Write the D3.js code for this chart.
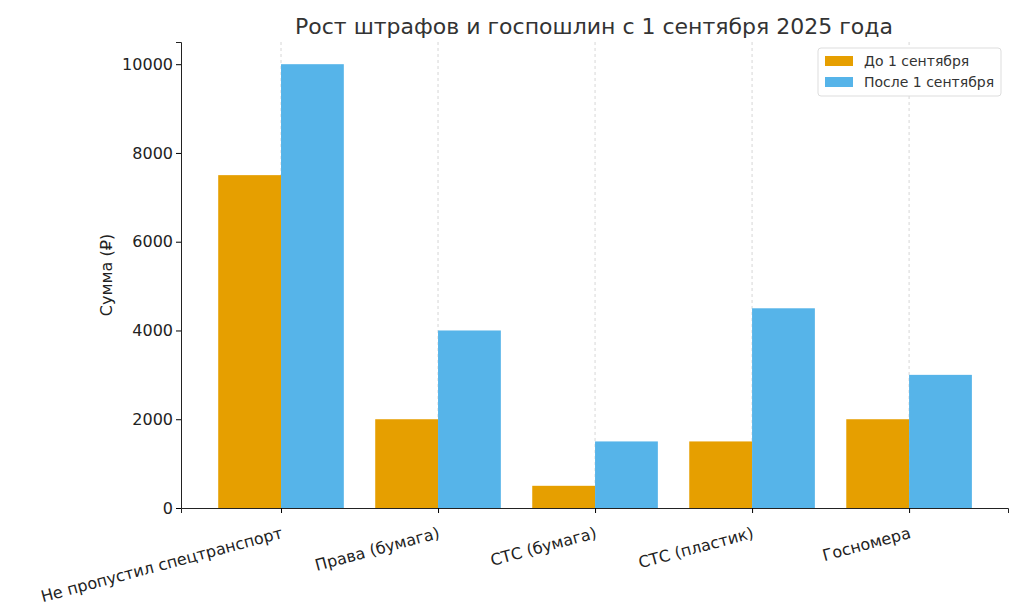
<!DOCTYPE html><html><head><meta charset="utf-8">
<script src="https://cdn.jsdelivr.net/npm/d3@7"></script>
<style>body{margin:0;background:#fff}text{font-family:"DejaVu Sans",sans-serif}</style></head><body>
<svg id="c" width="1024" height="614"></svg>
<script>
const categories=["Не пропустил спецтранспорт","Права (бумага)","СТС (бумага)","СТС (пластик)","Госномера"];
const before=[7500,2000,500,1500,2000];
const after=[10000,4000,1500,4500,3000];
const seriesNames=["До 1 сентября","После 1 сентября"];
const colors=["#E69F00","#56B4E9"];
const yTicks=[0,2000,4000,6000,8000,10000];
const svg=d3.select("#c");
const L=181,R=1008,T=42,B=508;
const x=d3.scaleLinear().domain([-0.637,4.63]).range([L,R]);
const y=d3.scaleLinear().domain([0,10500]).range([B,T]);
const bw=x(0.4)-x(0);
const g=svg.append("g");
categories.forEach((c,i)=>g.append("line").attr("x1",x(i)).attr("x2",x(i)).attr("y1",T).attr("y2",B).attr("stroke","#ccc").attr("stroke-dasharray","3,3").attr("stroke-width",0.8));
[before,after].forEach((s,k)=>g.selectAll(null).data(s).enter().append("rect")
 .attr("x",(d,i)=>x(i)+(k?0:-bw)).attr("width",bw).attr("y",d=>y(d)).attr("height",d=>B-y(d)).attr("fill",colors[k]));
const ya=svg.append("g").attr("transform",`translate(${L},0)`).call(d3.axisLeft(y).tickValues(yTicks).tickFormat(d3.format("d")).tickSize(5));
ya.selectAll("text").attr("font-size",16).attr("fill","#222");
ya.select(".domain").attr("stroke","#222");
const xa=svg.append("g").attr("transform",`translate(0,${B})`).call(d3.axisBottom(x).tickValues(d3.range(5)).tickFormat(i=>categories[i]).tickSize(5));
xa.select(".domain").attr("stroke","#222");
xa.selectAll("text").attr("font-size",16).attr("fill","#222").attr("text-anchor","end").attr("dy",0)
 .attr("transform","translate(0,22) rotate(-15)");
svg.append("text").attr("x",594).attr("y",34).attr("text-anchor","middle").attr("font-size",22).attr("fill","#333").text("Рост штрафов и госпошлин с 1 сентября 2025 года");
svg.append("text").attr("transform","translate(112,275) rotate(-90)").attr("text-anchor","middle").attr("font-size",16).attr("fill","#222").text("Сумма (₽)");
const lg=svg.append("g").attr("transform","translate(818,48)");
lg.append("rect").attr("width",183).attr("height",48).attr("rx",3).attr("fill","#fff").attr("stroke","#ddd");
seriesNames.forEach((n,i)=>{lg.append("rect").attr("x",7).attr("y",8+i*21).attr("width",28).attr("height",10).attr("fill",colors[i]);
lg.append("text").attr("x",46).attr("y",18+i*21).attr("font-size",14).attr("fill","#333").text(n);});
</script></body></html>
